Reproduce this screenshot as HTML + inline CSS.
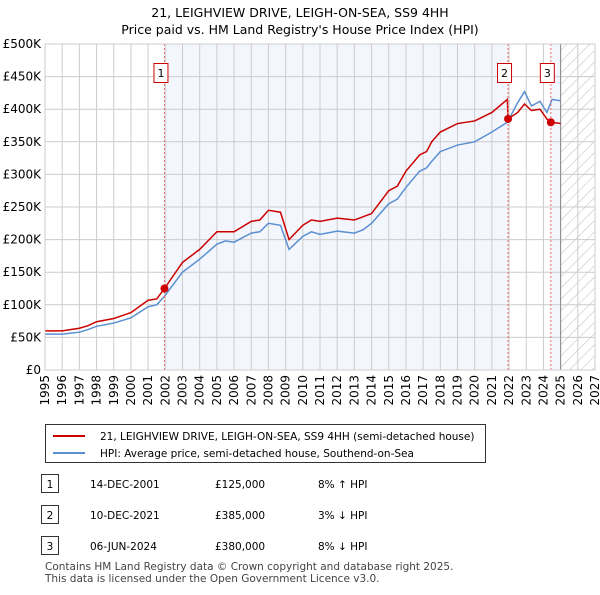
<!DOCTYPE html>
<html><head><meta charset="utf-8"><style>
body{margin:0;background:#fff;font-family:"Liberation Sans","DejaVu Sans",sans-serif;}
svg text{font-family:"DejaVu Sans","Liberation Sans",sans-serif;}
</style></head><body>
<svg id="c" width="600" height="590" xmlns="http://www.w3.org/2000/svg">
<defs><pattern id="hatch" width="8" height="8" patternUnits="userSpaceOnUse" patternTransform="rotate(45)"><line x1="0" y1="0" x2="0" y2="8" stroke="#bbb" stroke-width="1"/></pattern></defs>
<text x="300" y="17" text-anchor="middle" font-size="12.5">21, LEIGHVIEW DRIVE, LEIGH-ON-SEA, SS9 4HH</text>
<text x="300" y="34" text-anchor="middle" font-size="12.5">Price paid vs. HM Land Registry's House Price Index (HPI)</text>
<g id="plot"></g>
<g>
<rect x="45.5" y="424.5" width="440" height="38" fill="#fff" stroke="#333"/>
<line x1="53" y1="436" x2="85" y2="436" stroke="#cc0000" stroke-width="2"/>
<text x="100" y="440" font-size="10.5">21, LEIGHVIEW DRIVE, LEIGH-ON-SEA, SS9 4HH (semi-detached house)</text>
<line x1="53" y1="453" x2="85" y2="453" stroke="#5b8fd1" stroke-width="2"/>
<text x="100" y="457" font-size="10.5">HPI: Average price, semi-detached house, Southend-on-Sea</text>
</g>
<g font-size="10.5">
<rect x="41.5" y="474.5" width="17" height="18" fill="#fff" stroke="#333"/><text x="50" y="488" text-anchor="middle">1</text>
<text x="90" y="488">14-DEC-2001</text><text x="215" y="488">£125,000</text><text x="318" y="488">8% ↑ HPI</text>
<rect x="41.5" y="505.5" width="17" height="18" fill="#fff" stroke="#333"/><text x="50" y="519" text-anchor="middle">2</text>
<text x="90" y="519">10-DEC-2021</text><text x="215" y="519">£385,000</text><text x="318" y="519">3% ↓ HPI</text>
<rect x="41.5" y="536.5" width="17" height="18" fill="#fff" stroke="#333"/><text x="50" y="550" text-anchor="middle">3</text>
<text x="90" y="550">06-JUN-2024</text><text x="215" y="550">£380,000</text><text x="318" y="550">8% ↓ HPI</text>
</g>
<text x="45" y="570" font-size="10.5" fill="#444">Contains HM Land Registry data © Crown copyright and database right 2025.</text>
<text x="45" y="582" font-size="10.5" fill="#444">This data is licensed under the Open Government Licence v3.0.</text>
</svg>
<script>
const hpiYears=[1995,1996,1997,1997.5,1998,1999,2000,2001,2001.5,2001.95,2003,2004,2005,2005.5,2006,2007,2007.5,2008,2008.7,2009.2,2010,2010.5,2011,2012,2013,2013.5,2014,2015,2015.5,2016,2016.8,2017.2,2017.5,2018,2019,2020,2021,2021.9,2022.5,2022.9,2023.3,2023.8,2024.2,2024.5,2025];
const hpiValues=[55000,55000,58000,62000,67000,72000,80000,97000,100000,113000,150000,170000,193000,198000,196000,210000,212000,225000,222000,185000,205000,212000,208000,213000,210000,215000,225000,255000,262000,280000,305000,310000,320000,335000,345000,350000,365000,380000,410000,427000,405000,412000,395000,415000,413000];
const redYears=[1995,1996,1997,1997.5,1998,1999,2000,2001,2001.5,2001.95,2003,2004,2005,2005.5,2006,2007,2007.5,2008,2008.7,2009.2,2010,2010.5,2011,2012,2013,2013.5,2014,2015,2015.5,2016,2016.8,2017.2,2017.5,2018,2019,2020,2021,2021.9,2021.94,2022.5,2022.9,2023.3,2023.8,2024.2,2024.43,2025];
const redValues=[60000,60000,64000,68000,74000,79000,88000,107000,109000,125000,165000,185000,212000,212000,212000,228000,230000,245000,242000,200000,222000,230000,228000,233000,230000,235000,240000,275000,282000,305000,330000,335000,350000,365000,378000,382000,395000,415000,385000,395000,408000,398000,400000,385000,380000,378000];
const saleYears=[2001.95,2021.94,2024.43];
const saleValues=[125000,385000,380000];
const saleLabels=["1","2","3"];
const yTicks=[0,50000,100000,150000,200000,250000,300000,350000,400000,450000,500000];
const yTickLabels=["£0","£50K","£100K","£150K","£200K","£250K","£300K","£350K","£400K","£450K","£500K"];
const X0=45,X1=595,Y0=370,Y1=44;
const xs=y=>X0+(y-1995)/(2027-1995)*(X1-X0);
const ys=v=>Y0-v/500000*(Y0-Y1);
const NS="http://www.w3.org/2000/svg";
const g=document.getElementById('plot');
function mk(t,a){const e=document.createElementNS(NS,t);for(const k in a)e.setAttribute(k,a[k]);g.appendChild(e);return e;}
let e;
e=mk('rect',{x:xs(saleYears[0]),y:Y1,width:xs(saleYears[1])-xs(saleYears[0]),height:Y0-Y1,fill:'#f3f6fd'});


e=mk('rect',{x:xs(saleYears[2]),y:Y1,width:xs(2025)-xs(saleYears[2]),height:Y0-Y1,fill:'#f3f6fd'});


e=mk('rect',{x:xs(2025),y:Y1,width:X1-xs(2025),height:Y0-Y1,fill:'url(#hatch)'});


for(let yr=1995;yr<=2027;yr++){
 e=mk('line',{x1:xs(yr),x2:xs(yr),y1:Y1,y2:Y0,stroke:'#ccc','stroke-width':1});
 
 
 e=mk('text',{x:0,y:0,transform:`translate(${xs(yr)+4},${Y0+5}) rotate(-90)`,'text-anchor':'end','font-size':12});
 e.textContent=yr;
 
 
}
yTicks.forEach((v,i)=>{
 e=mk('line',{x1:X0,x2:X1,y1:ys(v),y2:ys(v),stroke:'#ccc','stroke-width':1});
 
 
 e=mk('text',{x:X0-4,y:ys(v)+4,'text-anchor':'end','font-size':12});
 e.textContent=yTickLabels[i];
 
 
});
e=mk('line',{x1:xs(2025),x2:xs(2025),y1:Y1,y2:Y0,stroke:'#888','stroke-width':1});


e=mk('polyline',{points:hpiYears.map((y,i)=>xs(y)+','+ys(hpiValues[i])).join(' '),fill:'none',stroke:'#5b8fd1','stroke-width':1.5});


e=mk('polyline',{points:redYears.map((y,i)=>xs(y)+','+ys(redValues[i])).join(' '),fill:'none',stroke:'#cc0000','stroke-width':1.5});


saleYears.forEach((y,i)=>{
 e=mk('line',{x1:xs(y),x2:xs(y),y1:Y1,y2:Y0,stroke:'#e66','stroke-width':1,'stroke-dasharray':'2,2'});
 
 
 e=mk('circle',{cx:xs(y),cy:ys(saleValues[i]),r:4,fill:'#cc0000'});
 
 
 e=mk('rect',{x:xs(y)-10.5,y:63.5,width:14,height:19,fill:'#fff',stroke:'#cc0000'});
 
 
 e=mk('text',{x:xs(y)-3.5,y:77,'text-anchor':'middle','font-size':11});
 e.textContent=saleLabels[i];
 
 
});
e=mk('rect',{x:X0,y:Y1,width:X1-X0,height:Y0-Y1,fill:'none',stroke:'#ccc'});


</script>
</body></html>
